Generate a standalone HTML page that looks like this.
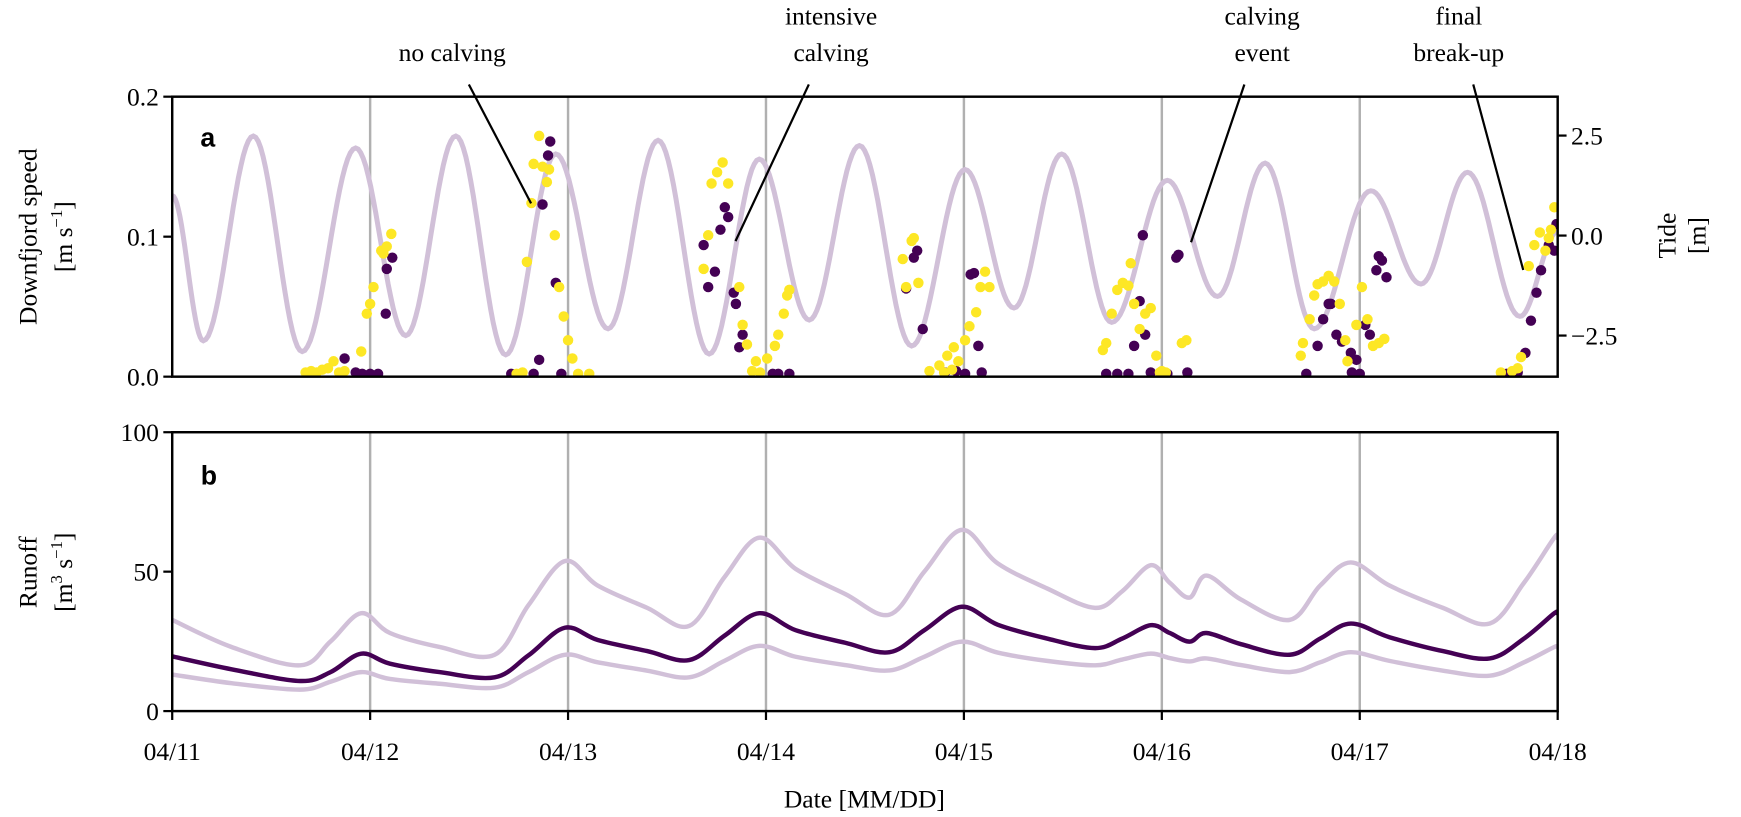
<!DOCTYPE html>
<html><head><meta charset="utf-8"><style>
html,body{margin:0;padding:0;background:#fff;}
svg{display:block;font-family:"Liberation Serif",serif;}
</style></head><body>
<svg id="chart" width="1741" height="817" viewBox="0 0 1567 735.3"></svg>
<script>
// ---- data (days since 04/11 00:00) ----
const dateTicks = ["04/11","04/12","04/13","04/14","04/15","04/16","04/17","04/18"];
const speedTicks = ["0.0","0.1","0.2"];
const tideTicks = ["2.5","0.0","\u22122.5"];
const runoffTicks = ["0","50","100"];
// tide extrema: days and metres
const tideDays = [0,0.157,0.410,0.657,0.927,1.180,1.433,1.685,1.938,2.202,2.455,2.713,2.966,3.219,3.472,3.736,4.006,4.253,4.494,4.747,5.028,5.281,5.522,5.770,6.056,6.309,6.545,6.809,7.0];
const tideM = [1.0,-2.63,2.49,-2.9,2.19,-2.5,2.49,-2.98,2.04,-2.33,2.38,-2.96,1.91,-2.11,2.25,-2.76,1.65,-1.81,2.04,-2.17,1.38,-1.52,1.81,-2.33,1.12,-1.21,1.58,-2.02,0.1];
// runoff
const runDays = [0,0.3,0.646,0.80,0.955,1.1,1.35,1.629,1.80,1.983,2.15,2.4,2.612,2.79,2.966,3.15,3.4,3.624,3.80,3.989,4.17,4.42,4.663,4.80,4.944,5.04,5.14,5.225,5.4,5.646,5.80,5.955,6.15,6.42,6.657,6.83,6.983,7.0];
const runMid  = [19.6,15.0,10.8,14.0,20.6,17.0,14.0,12.1,20.0,29.9,25.5,21.5,18.3,27.0,35.1,29.0,24.5,21.1,29.0,37.4,31.0,26.0,22.6,26.0,30.8,28.0,24.9,28.0,24.0,20.2,26.0,31.4,26.5,21.5,18.9,26.0,35.1,35.0];
const runHigh = [32.7,23.0,16.4,25.0,35.1,28.0,23.0,20.2,38.0,53.8,45.0,37.0,30.5,48.0,62.2,51.0,42.0,34.6,50.0,65.0,53.0,44.0,37.0,43.0,52.3,46.0,40.7,48.6,40.0,32.7,45.0,53.3,45.0,37.0,31.4,46.0,62.2,62.0];
const runLow  = [13.1,10.0,7.7,10.5,14.0,11.5,9.8,8.4,14.0,20.2,17.5,14.5,12.1,18.0,23.4,19.5,16.5,14.6,19.5,24.9,21.0,18.0,16.4,18.5,20.6,19.0,17.8,18.9,16.5,14.0,17.5,21.1,18.0,14.5,12.7,17.5,23.0,23.0];
// scatter (days, m/s)
const yelDays = [0.674,0.702,0.73,0.758,0.787,0.815,0.843,0.871,0.955,0.983,1.0,1.017,1.056,1.084,1.107,1.067,
  1.815,1.792,1.854,1.826,1.871,1.893,1.904,1.933,1.955,1.978,2.0,2.022,1.770,2.051,2.107,1.74,
  2.781,2.753,2.725,2.809,2.685,2.708,2.865,2.882,2.904,2.949,3.006,3.045,3.062,3.09,3.118,3.107,2.93,2.97,
  3.736,3.747,3.691,3.77,3.708,3.826,3.876,3.916,3.949,3.972,4.006,4.028,4.062,4.084,4.107,4.129,3.90,3.94,
  4.702,4.719,4.747,4.775,4.803,4.831,4.843,4.86,4.888,4.916,4.944,4.972,5.0,5.101,5.124,4.99,5.02,
  5.702,5.713,5.747,5.77,5.787,5.815,5.843,5.871,5.899,5.927,5.938,5.983,6.011,6.039,6.067,6.096,6.124,
  6.713,6.77,6.798,6.815,6.854,6.882,6.91,6.938,6.955,6.983,6.966];
const yelVals = [0.003,0.004,0.003,0.005,0.006,0.011,0.003,0.004,0.018,0.045,0.052,0.064,0.09,0.093,0.102,0.088,
  0.124,0.082,0.172,0.152,0.15,0.139,0.148,0.101,0.064,0.043,0.026,0.013,0.003,0.002,0.002,0.002,
  0.153,0.146,0.138,0.138,0.077,0.101,0.064,0.037,0.023,0.011,0.013,0.022,0.03,0.045,0.062,0.058,0.004,0.003,
  0.097,0.099,0.084,0.067,0.064,0.004,0.008,0.015,0.021,0.011,0.026,0.036,0.046,0.064,0.075,0.064,0.003,0.005,
  0.019,0.024,0.045,0.062,0.067,0.065,0.081,0.052,0.034,0.045,0.049,0.015,0.004,0.024,0.026,0.003,0.003,
  0.015,0.024,0.041,0.058,0.066,0.068,0.072,0.068,0.052,0.026,0.011,0.037,0.064,0.041,0.022,0.024,0.027,
  0.003,0.004,0.006,0.014,0.079,0.094,0.103,0.09,0.099,0.121,0.105];
const purDays = [0.871,1.084,1.112,1.079,0.927,0.96,1.0,1.04,
  1.871,1.91,1.899,1.938,1.854,1.966,1.713,1.826,
  2.792,2.809,2.77,2.685,2.742,2.708,2.837,2.848,2.865,2.882,3.034,3.118,3.062,
  3.764,3.747,3.708,3.792,3.961,4.006,4.034,4.051,4.073,4.09,3.904,
  4.904,5.073,5.084,4.86,4.888,4.916,4.719,4.775,4.831,4.944,5.028,5.129,
  5.815,5.843,5.854,5.882,5.91,5.787,5.955,5.983,6.028,6.051,6.096,6.112,6.084,6.135,5.730,5.96,6.0,
  6.837,6.865,6.893,6.916,6.955,6.983,6.994,6.742,6.798];
const purVals = [0.013,0.077,0.085,0.045,0.003,0.002,0.002,0.002,
  0.123,0.168,0.158,0.067,0.012,0.002,0.002,0.002,
  0.121,0.114,0.105,0.094,0.075,0.064,0.06,0.052,0.021,0.03,0.002,0.002,0.002,
  0.09,0.085,0.063,0.034,0.004,0.002,0.073,0.074,0.022,0.003,0.003,
  0.101,0.085,0.087,0.022,0.054,0.03,0.002,0.002,0.002,0.003,0.002,0.003,
  0.041,0.052,0.052,0.03,0.025,0.022,0.017,0.012,0.037,0.03,0.086,0.083,0.076,0.071,0.002,0.003,0.002,
  0.017,0.04,0.06,0.076,0.094,0.09,0.109,0.002,0.003];
</script>
<script>
const NS = "http://www.w3.org/2000/svg";
const svg = document.getElementById("chart");
const X0 = 155, X1 = 1402, DAYS = 7;
const A_TOP = 87, A_BOT = 339, B_TOP = 389, B_BOT = 640;
function xS(d){ return X0 + (X1 - X0) * d / DAYS; }
function ySpeed(v){ return A_BOT - (A_BOT - A_TOP) * v / 0.2; }
function yTide(m){ return 212 - 36 * m; }
function yRun(r){ return B_BOT - (B_BOT - B_TOP) * r / 100; }
function mk(tag, attrs, parent){
  const el = document.createElementNS(NS, tag);
  for (const k in attrs) el.setAttribute(k, attrs[k]);
  (parent || svg).appendChild(el);
  return el;
}
function txt(s, x, y, size, parent, extra){
  const t = mk("text", Object.assign({x:x, y:y, "font-size":size, "text-anchor":"middle"}, extra||{}), parent);
  t.textContent = s;
  return t;
}
function smoothPath(pts){
  let d = "M" + pts[0][0].toFixed(1) + "," + pts[0][1].toFixed(1);
  for (let i = 0; i < pts.length - 1; i++) {
    const p0 = pts[Math.max(0, i-1)], p1 = pts[i], p2 = pts[i+1], p3 = pts[Math.min(pts.length-1, i+2)];
    const c1x = p1[0] + (p2[0]-p0[0])/6, c1y = p1[1] + (p2[1]-p0[1])/6;
    const c2x = p2[0] - (p3[0]-p1[0])/6, c2y = p2[1] - (p3[1]-p1[1])/6;
    d += "C" + c1x.toFixed(1) + "," + c1y.toFixed(1) + " " + c2x.toFixed(1) + "," + c2y.toFixed(1) + " " + p2[0].toFixed(1) + "," + p2[1].toFixed(1);
  }
  return d;
}
const defs = mk("defs", {});
const ca = mk("clipPath", {id:"clipA"}, defs); mk("rect",{x:X0,y:A_TOP,width:X1-X0,height:A_BOT-A_TOP},ca);
const cb = mk("clipPath", {id:"clipB"}, defs); mk("rect",{x:X0,y:B_TOP,width:X1-X0,height:B_BOT-B_TOP},cb);

// ---------- panel a ----------
const gA = mk("g", {});


for (let i = 1; i < dateTicks.length - 1; i++) {
  const g = mk("line", {x1:xS(i), x2:xS(i), y1:A_TOP, y2:A_BOT, stroke:"#b0b0b0", "stroke-width":2.2}, gA);
  
  
}
let d = "";
for (let i = 0; i < tideDays.length - 1; i++) {
  const t0 = tideDays[i], t1 = tideDays[i+1], m0 = tideM[i], m1 = tideM[i+1];
  for (let k = 0; k <= 20; k++) {
    const f = k / 20, tt = t0 + (t1 - t0) * f;
    const mm = m0 + (m1 - m0) * (1 - Math.cos(Math.PI * f)) / 2;
    d += (d ? "L" : "M") + xS(tt).toFixed(1) + "," + yTide(mm).toFixed(1);
  }
}
const tide = mk("path", {d:d, fill:"none", stroke:"#d1c0d8", "stroke-width":4.5, "clip-path":"url(#clipA)"}, gA);


const gSc = mk("g", {"clip-path":"url(#clipA)"}, gA);


for (let i = 0; i < purDays.length; i++) {
  const c = mk("circle", {cx:xS(purDays[i]), cy:ySpeed(purVals[i]), r:4.7, fill:"#440154"}, gSc);
  
  
}
for (let i = 0; i < yelDays.length; i++) {
  const c = mk("circle", {cx:xS(yelDays[i]), cy:ySpeed(yelVals[i]), r:4.7, fill:"#fde725"}, gSc);
  
  
}
const frameA = mk("rect", {x:X0, y:A_TOP, width:X1-X0, height:A_BOT-A_TOP, fill:"none", stroke:"#000", "stroke-width":2.2}, gA);


speedTicks.forEach((s, i) => {
  const y = ySpeed(i * 0.1);
  mk("line", {x1:X0-8, x2:X0, y1:y, y2:y, stroke:"#000", "stroke-width":2}, gA);
  const t = txt(s, X0-12, y+8, 23, gA, {"text-anchor":"end"});
  
  
});
tideTicks.forEach((s, i) => {
  const y = yTide(2.5 - 2.5 * i);
  mk("line", {x1:X1, x2:X1+8, y1:y, y2:y, stroke:"#000", "stroke-width":2}, gA);
  const t = txt(s, X1+12, y+8, 23, gA, {"text-anchor":"start"});
  
  
});
const la = txt("a", 187, 132, 24, gA, {"font-family":"Liberation Sans, sans-serif","font-weight":"bold"});


const yl1 = txt("Downfjord speed", 0, 0, 23, gA, {transform:"translate(33,213) rotate(-90)"});


const yl1b = mk("text", {transform:"translate(65,213) rotate(-90)", "font-size":23, "text-anchor":"middle"}, gA);
yl1b.innerHTML = '[m s<tspan font-size="15" dy="-9">\u22121</tspan><tspan dy="9">]</tspan>';


const yr = txt("Tide", 0, 0, 23, gA, {transform:"translate(1508,212) rotate(-90)"});


const yrb = txt("[m]", 0, 0, 23, gA, {transform:"translate(1535,212) rotate(-90)"});



const ann = [
  {lines:["no calving"], cx:407, x1:422, y1:76, x2:478, y2:183, name:"no-calving"},
  {lines:["intensive","calving"], cx:748, x1:728, y1:76, x2:662, y2:217, name:"intensive-calving"},
  {lines:["calving","event"], cx:1136, x1:1120, y1:76, x2:1072, y2:218, name:"calving-event"},
  {lines:["final","break-up"], cx:1313, x1:1326, y1:76, x2:1371, y2:243, name:"final-break-up"}
];
ann.forEach(a => {
  const g = mk("g", {});
  
  
  const n = a.lines.length;
  a.lines.forEach((s, i) => txt(s, a.cx, 55 - (n - 1 - i) * 33, 23, g));
  mk("line", {x1:a.x1, y1:a.y1, x2:a.x2, y2:a.y2, stroke:"#000", "stroke-width":2}, g);
});

// ---------- panel b ----------
const gB = mk("g", {});


for (let i = 1; i < dateTicks.length - 1; i++) {
  const g = mk("line", {x1:xS(i), x2:xS(i), y1:B_TOP, y2:B_BOT, stroke:"#b0b0b0", "stroke-width":2.2}, gB);
  
  
}
function runPath(vals){
  return smoothPath(vals.map((v, i) => [xS(runDays[i]), yRun(v)]));
}
const rh = mk("path", {d:runPath(runHigh), fill:"none", stroke:"#d1c0d8", "stroke-width":4, "stroke-linejoin":"round", "clip-path":"url(#clipB)"}, gB);


const rl = mk("path", {d:runPath(runLow), fill:"none", stroke:"#d1c0d8", "stroke-width":4, "stroke-linejoin":"round", "clip-path":"url(#clipB)"}, gB);


const rm = mk("path", {d:runPath(runMid), fill:"none", stroke:"#440154", "stroke-width":4, "stroke-linejoin":"round", "clip-path":"url(#clipB)"}, gB);


const frameB = mk("rect", {x:X0, y:B_TOP, width:X1-X0, height:B_BOT-B_TOP, fill:"none", stroke:"#000", "stroke-width":2.2}, gB);


runoffTicks.forEach((s, i) => {
  const y = yRun(i * 50);
  mk("line", {x1:X0-8, x2:X0, y1:y, y2:y, stroke:"#000", "stroke-width":2}, gB);
  const t = txt(s, X0-12, y+8, 23, gB, {"text-anchor":"end"});
  
  
});
dateTicks.forEach((s, i) => {
  mk("line", {x1:xS(i), x2:xS(i), y1:B_BOT, y2:B_BOT+8, stroke:"#000", "stroke-width":2}, gB);
  const t = txt(s, xS(i), 684, 23, gB);
  
  
});
const lb = txt("b", 188, 436, 24, gB, {"font-family":"Liberation Sans, sans-serif","font-weight":"bold"});


const yl2 = txt("Runoff", 0, 0, 23, gB, {transform:"translate(33,515) rotate(-90)"});


const yl2b = mk("text", {transform:"translate(65,515) rotate(-90)", "font-size":23, "text-anchor":"middle"}, gB);
yl2b.innerHTML = '[m<tspan font-size="15" dy="-9">3</tspan><tspan dy="9"> s</tspan><tspan font-size="15" dy="-9">\u22121</tspan><tspan dy="9">]</tspan>';


const xl = txt("Date [MM/DD]", 778, 727, 23, gB);


</script>
</body></html>
